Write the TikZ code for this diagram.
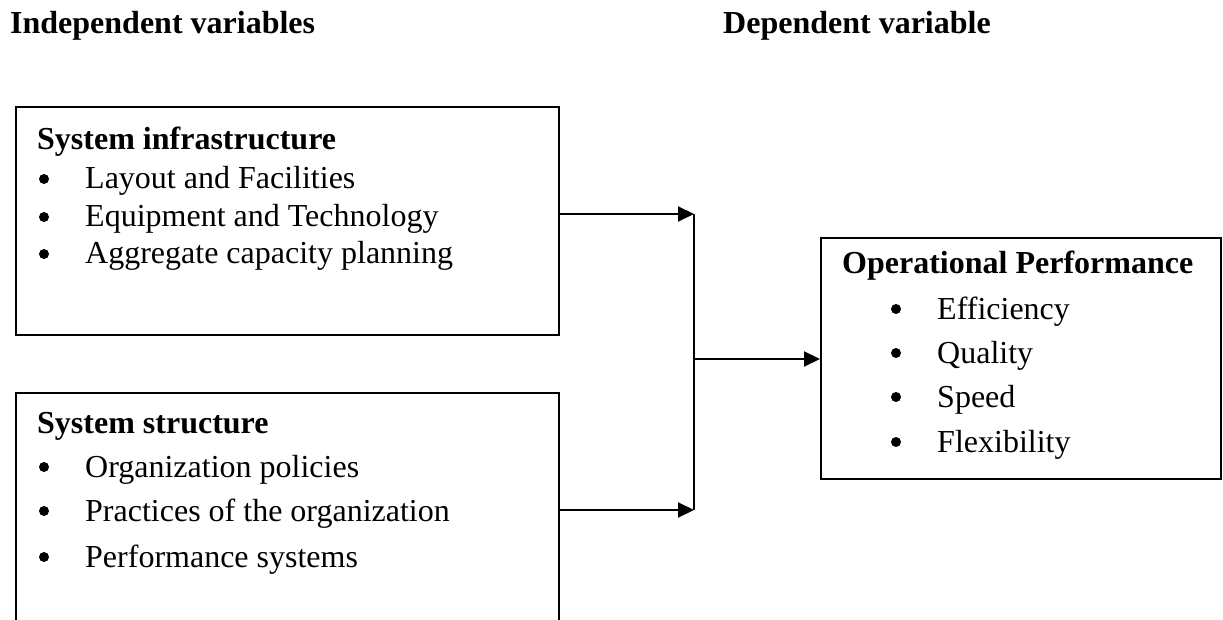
\documentclass[tikz,border=0pt]{standalone}
\usepackage{fontspec}
\setmainfont{Liberation Serif}
\usetikzlibrary{arrows.meta}

\begin{document}
\begin{tikzpicture}[x=1pt,y=-1pt,
    varbox/.style={draw, line width=1.6pt, anchor=north west, inner sep=0pt},
    heading/.style={anchor=base west, inner sep=0pt, font=\fontsize{32}{38}\selectfont\bfseries},
    dot/.style={circle, fill, inner sep=0pt, minimum size=10pt},
    entry/.style={anchor=base west, inner sep=0pt, font=\fontsize{32}{38}\selectfont},
    link/.style={line width=2pt, -{Triangle[length=16pt,width=15pt]}}]
    \useasboundingbox (0,0) rectangle (1223,620);
    \clip (0,0) rectangle (1223,620);

    % column headings
    \node[heading] (indep) at (10,34) {Independent variables};
    \node[heading] (dep) at (723,34) {Dependent variable};

    % the three boxes
    \node[varbox, minimum width=543pt, minimum height=228pt] (infra) at (15,106) {};
    \node[varbox, minimum width=543pt, minimum height=260pt] (struct) at (15,392) {};
    \node[varbox, minimum width=400pt, minimum height=241pt] (perf) at (820,237) {};

    % system infrastructure
    \node[heading] (infrat) at (37,150) {System infrastructure};
    \foreach \i/\txt [count=\n] in {189/Layout and Facilities, 227/Equipment and Technology, 264/Aggregate capacity planning} {
        \node[dot] (infrab\n) at (44,\i-10) {};
        \node[entry] (infrae\n) at (85,\i) {\txt};
    }

    % system structure
    \node[heading] (structt) at (37,433) {System structure};
    \foreach \i/\txt [count=\n] in {477/Organization policies, 521/Practices of the organization, 567/Performance systems} {
        \node[dot] (structb\n) at (44,\i-10) {};
        \node[entry] (structe\n) at (85,\i) {\txt};
    }

    % operational performance
    \node[heading] (perft) at (842,273) {Operational Performance};
    \foreach \i/\txt [count=\n] in {319/Efficiency, 363/Quality, 407/Speed, 452/Flexibility} {
        \node[dot] (perfb\n) at (896,\i-10) {};
        \node[entry] (perfe\n) at (937,\i) {\txt};
    }

    % connectors
    \coordinate (j1) at (694,214);
    \coordinate (j2) at (694,510);
    \coordinate (jm) at (694,359);
    \draw[link] (j1 -| infra.east) -- (j1);
    \draw[link] (j2 -| struct.east) -- (j2);
    \draw[line width=2pt] (j1) -- (j2);
    \draw[link] (jm) -- (jm -| perf.west);
\end{tikzpicture}
\end{document}
